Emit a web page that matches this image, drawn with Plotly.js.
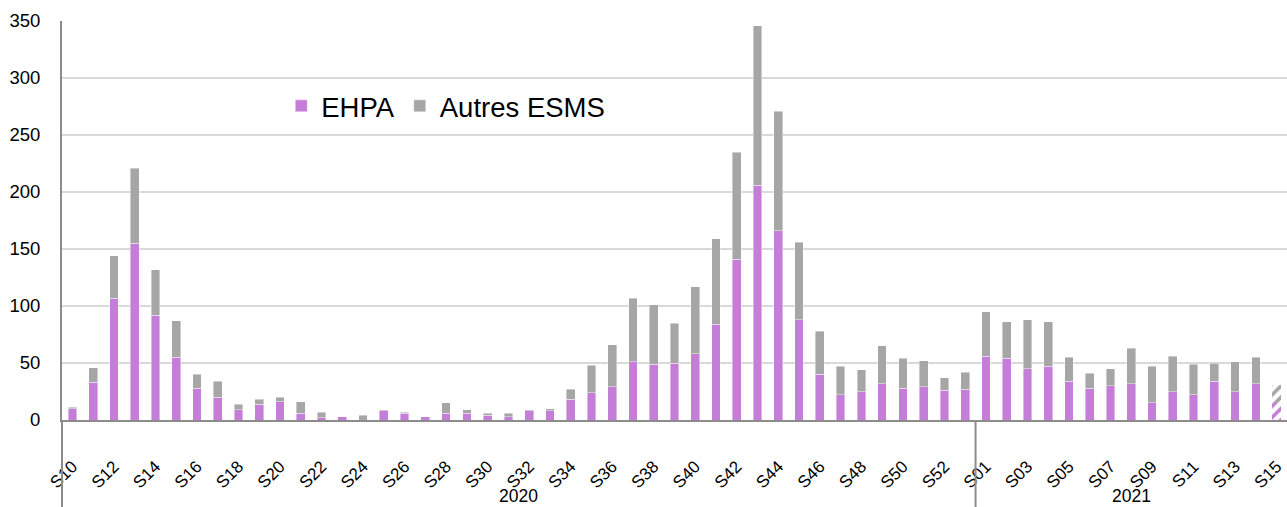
<!DOCTYPE html>
<html>
<head>
<meta charset="utf-8">
<script src="https://cdn.plot.ly/plotly-3.0.1.min.js"></script>
<style>
  html, body { margin: 0; padding: 0; background: #ffffff; }
  #chart { width: 1287px; height: 507px; }
</style>
</head>
<body>
<div id="chart"></div>
<script>
// ---- Data ----
const years = ['2020', '2021'];
const weeks2020 = ['S10','S11','S12','S13','S14','S15','S16','S17','S18','S19','S20','S21','S22','S23','S24','S25','S26','S27','S28','S29','S30','S31','S32','S33','S34','S35','S36','S37','S38','S39','S40','S41','S42','S43','S44','S45','S46','S47','S48','S49','S50','S51','S52','S53'];
const weeks2021 = ['S01','S02','S03','S04','S05','S06','S07','S08','S09','S10','S11','S12','S13','S14','S15'];

const ehpa2020   = [10,33,107,155,92,55,28,20,9,14,16,6,2,3,0,8,6,3,6,6,4,3,8,8,18,24,29,51,49,50,58,84,141,206,166,88,40,22,25,32,28,29,26,27];
const autres2020 = [1,13,37,66,40,32,12,14,5,4,4,10,5,0,4,1,1,0,9,3,2,3,1,2,9,24,37,56,52,35,59,75,94,140,105,68,38,25,19,33,26,23,11,15];
const ehpa2021   = [56,54,45,47,34,28,30,32,15,25,22,34,25,32,15];
const autres2021 = [39,32,43,39,21,13,15,31,32,31,27,16,26,23,16];

// the last week is provisional (hatched in the reference)
const provisionalWeeks = ['2021 S15'];

const seriesNames = ['EHPA', 'Autres ESMS'];
const seriesColors = ['#C47ED7', '#A6A6A6'];

// ---- Build the category axis ----
const cats = [];
const tickLabels = [];
weeks2020.forEach(w => { cats.push('2020 ' + w); tickLabels.push(w); });
weeks2021.forEach(w => { cats.push('2021 ' + w); tickLabels.push(w); });

const tickvals = cats.filter((c, i) => i % 2 === 0);
const ticktext = tickLabels.filter((c, i) => i % 2 === 0);

const ehpa = ehpa2020.concat(ehpa2021);
const autres = autres2020.concat(autres2021);

const isProv = c => provisionalWeeks.includes(c);

const traces = [];
[ehpa, autres].forEach((vals, k) => {
  traces.push({
    type: 'bar',
    name: seriesNames[k],
    legendgroup: seriesNames[k],
    x: cats,
    y: vals.map((v, i) => isProv(cats[i]) ? null : v),
    marker: {
      color: seriesColors[k],
      line: { width: 0.6, color: 'rgba(255,255,255,0.7)' }
    },
    hoverinfo: 'x+y+name'
  });
});
// provisional (hatched) bars
[ehpa, autres].forEach((vals, k) => {
  traces.push({
    type: 'bar',
    name: seriesNames[k] + ' (provisoire)',
    legendgroup: seriesNames[k],
    showlegend: false,
    x: cats,
    y: vals.map((v, i) => isProv(cats[i]) ? v : null),
    marker: {
      color: seriesColors[k],
      line: { width: 0 },
      pattern: {
        shape: '/',
        fillmode: 'replace',
        fgcolor: seriesColors[k],
        bgcolor: '#ffffff',
        size: 8,
        solidity: 0.45
      }
    },
    hoverinfo: 'x+y+name'
  });
});

// year group positions (category indices)
const n2020 = weeks2020.length, n2021 = weeks2021.length;
const yearCenters = [(n2020 - 1) / 2, n2020 + (n2021 - 1) / 2];
const yearBoundary = n2020 - 0.5;

const font = 'Liberation Sans, Arial, Helvetica, sans-serif';
const axisGrey = '#8C8C8C';

const layout = {
  width: 1287,
  height: 507,
  margin: { l: 62, r: 0, t: 21, b: 87 },
  paper_bgcolor: '#ffffff',
  plot_bgcolor: '#ffffff',
  barmode: 'stack',
  bargap: 0.58,
  showlegend: true,
  font: { family: font, color: '#000000' },
  legend: {
    orientation: 'h',
    x: 0.179, xanchor: 'left',
    y: 0.787, yanchor: 'middle',
    traceorder: 'normal',
    font: { family: font, size: 27.5, color: '#000000' },
    bgcolor: 'rgba(0,0,0,0)'
  },
  xaxis: {
    type: 'category',
    categoryorder: 'array',
    categoryarray: cats,
    range: [-0.5, cats.length - 0.5],
    tickmode: 'array',
    tickvals: tickvals,
    ticktext: ticktext,
    tickangle: -45,
    tickfont: { family: font, size: 17, color: '#000000' },
    ticks: '',
    ticklabelstandoff: 28,
    showgrid: false,
    showline: true,
    linecolor: axisGrey,
    linewidth: 2,
    zeroline: false,
    fixedrange: true
  },
  yaxis: {
    range: [0, 350],
    dtick: 50,
    tick0: 0,
    tickfont: { family: font, size: 18.5, color: '#000000' },
    ticks: '',
    ticklabelstandoff: 16,
    showgrid: true,
    gridcolor: '#D9D9D9',
    gridwidth: 1.5,
    zeroline: false,
    showline: true,
    linecolor: axisGrey,
    linewidth: 2,
    fixedrange: true
  },
  shapes: [
    { type: 'line', xref: 'paper', yref: 'paper', x0: 0, x1: 0, y0: 0, y1: -0.22,
      line: { color: axisGrey, width: 2 } },
    { type: 'line', xref: 'x', yref: 'paper', x0: yearBoundary, x1: yearBoundary, y0: 0, y1: -0.22,
      line: { color: axisGrey, width: 2 } }
  ],
  annotations: years.map((yr, i) => ({
    xref: 'x', yref: 'paper',
    x: yearCenters[i], y: -0.19,
    xanchor: 'center', yanchor: 'middle',
    text: yr, showarrow: false,
    font: { family: font, size: 17.5, color: '#000000' }
  }))
};

Plotly.newPlot('chart', traces, layout, { displayModeBar: false, staticPlot: true });
</script>
</body>
</html>
